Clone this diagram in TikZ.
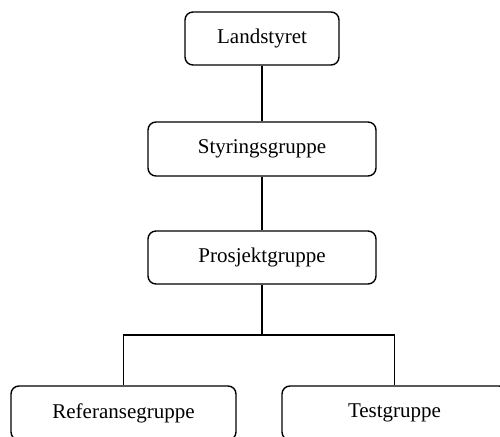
\documentclass[tikz,border=0pt]{standalone}
\usepackage{fontspec}
\setmainfont{Liberation Serif}
\begin{document}
\begin{tikzpicture}[x=1pt,y=1pt,
  box/.style={draw, line width=1.4pt, rounded corners=8pt, inner sep=0pt, font=\fontsize{21}{24}\selectfont},
  conn/.style={line width=1.4pt}]
\useasboundingbox (0,0) rectangle (500,-436);
\clip (0,0) rectangle (500,-436);
\node[box, minimum width=154pt, minimum height=53pt] (land) at (262,-38.5) {Landstyret};
\node[box, minimum width=228pt, minimum height=54pt] (styr) at (262,-149) {Styringsgruppe};
\node[box, minimum width=228pt, minimum height=53pt] (pros) at (262,-257.5) {Prosjektgruppe};
\node[box, minimum width=225pt, minimum height=54pt] (ref) at (123.5,-413) {Referansegruppe};
\node[box, minimum width=225pt, minimum height=54pt] (test) at (394.5,-413) {Testgruppe};
\coordinate (split) at (262,-335);
\draw[conn] (land.south) -- (styr.north);
\draw[conn] (styr.south) -- (pros.north);
\draw[conn] (pros.south) -- (split);
\draw[conn] (split) -| (ref.north);
\draw[conn] (split) -| (test.north);
\end{tikzpicture}
\end{document}
